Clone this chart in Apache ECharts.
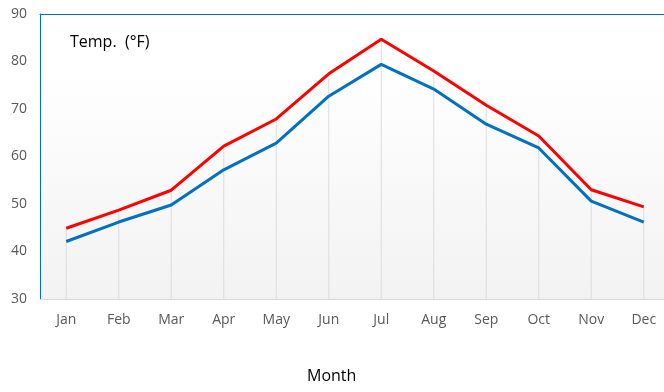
<!DOCTYPE html>
<html><head><meta charset="utf-8">
<script src="https://cdn.jsdelivr.net/npm/echarts@6/dist/echarts.min.js"></script>
<style>html,body{margin:0;padding:0;background:#fff;overflow:hidden}#c{width:670px;height:392px}</style>
</head><body><div id="c"></div>
<script>
var months = ['Jan','Feb','Mar','Apr','May','Jun','Jul','Aug','Sep','Oct','Nov','Dec'];
var highTemp = [44.9, 48.7, 52.9, 62.2, 67.9, 77.4, 84.7, 78.0, 70.8, 64.3, 53.0, 49.4];
var lowTemp = [42.1, 46.2, 49.8, 57.2, 62.8, 72.7, 79.4, 74.2, 66.8, 61.8, 50.6, 46.2];
var yTicks = [30, 40, 50, 60, 70, 80, 90];

var FONT = 'Open Sans';
var chart = echarts.init(document.getElementById('c'), null, {renderer: 'canvas'});
chart.setOption({
  animation: false,
  backgroundColor: '#ffffff',
  textStyle: {fontFamily: FONT},
  title: [
    {text: 'Temp.  (°F)', left: 70, top: 34, padding: 0, textStyle: {fontFamily: FONT, fontSize: 16, fontWeight: 'normal', color: '#000'}},
    {text: 'Month', left: 307, top: 368, padding: 0, textStyle: {fontFamily: FONT, fontSize: 16, fontWeight: 'normal', color: '#000'}}
  ],
  grid: {
    left: 40, top: 14, right: 0, height: 285, show: true, borderWidth: 0,
    backgroundColor: new echarts.graphic.LinearGradient(0, 0, 0, 1, [
      {offset: 0, color: '#ffffff'}, {offset: 0.2, color: '#ffffff'}, {offset: 1, color: '#f2f2f2'}
    ])
  },
  xAxis: [{
    type: 'category', data: months, boundaryGap: true,
    axisLine: {lineStyle: {color: '#d9d9d9', width: 1}},
    axisTick: {show: false},
    axisLabel: {color: '#595959', fontSize: 14, margin: 14, fontFamily: FONT}
  }, {
    type: 'category', data: months, position: 'top', boundaryGap: true,
    axisLine: {lineStyle: {color: '#0070c0', width: 1}},
    axisTick: {show: false}, axisLabel: {show: false}
  }],
  yAxis: {
    type: 'value', min: yTicks[0], max: yTicks[yTicks.length - 1], interval: 10,
    axisLine: {show: true, lineStyle: {color: '#0070c0', width: 1}},
    axisTick: {show: false},
    splitLine: {show: false},
    axisLabel: {color: '#595959', fontSize: 14, margin: 13, fontFamily: FONT}
  },
  series: [
    {type: 'bar', data: highTemp, barWidth: 1, itemStyle: {color: '#dcdcdc'}, silent: true, z: 1},
    {type: 'line', data: lowTemp, symbol: 'none', lineStyle: {color: '#0070c0', width: 3}, z: 3},
    {type: 'line', data: highTemp, symbol: 'none', lineStyle: {color: '#ff0000', width: 3}, z: 4}
  ]
});
</script></body></html>
